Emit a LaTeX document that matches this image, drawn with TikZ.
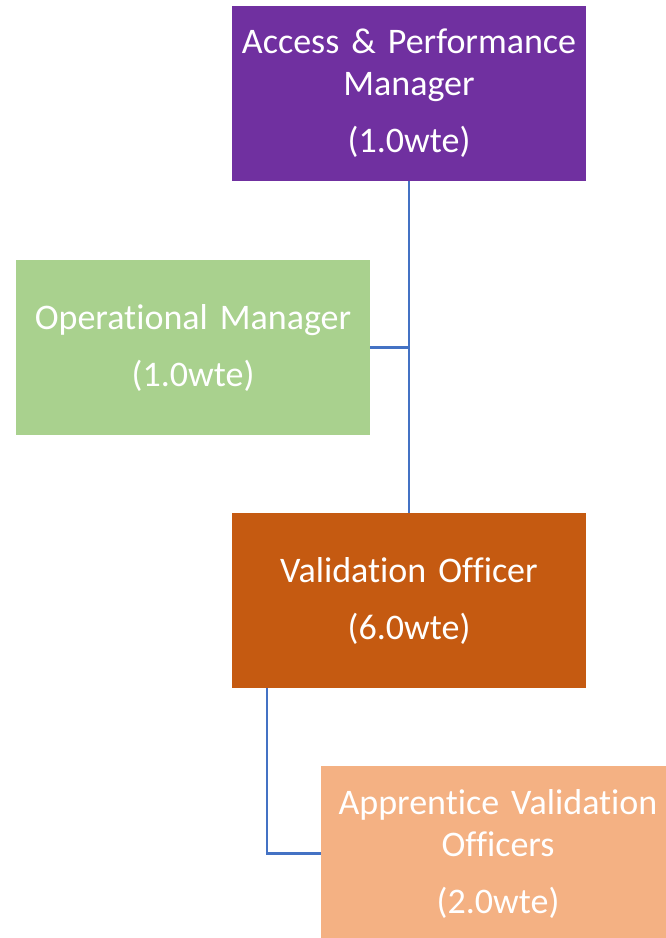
\documentclass[tikz,border=0pt]{standalone}
\usepackage{fontspec}
\setmainfont{Carlito}[Ligatures=NoCommon]
\usepackage{tikz}
\usetikzlibrary{positioning}

\definecolor{purplebox}{HTML}{7030A0}
\definecolor{greenbox}{HTML}{A9D18E}
\definecolor{orangebox}{HTML}{C55A11}
\definecolor{peachbox}{HTML}{F4B183}
\definecolor{linkblue}{HTML}{4472C4}

\tikzset{
  role/.style={rectangle, minimum width=354pt, minimum height=175pt, inner sep=0pt,
    text width=352pt, align=center, text=white,
    font=\fontsize{36pt}{42pt}\selectfont},
  link/.style={draw=linkblue, line width=2.6pt}
}

\begin{document}
\begin{tikzpicture}[x=1pt, y=-1pt]

            \useasboundingbox (0,0) rectangle (666,938);
            \clip (0,0) rectangle (666,938);

            \node[role, fill=purplebox] (APM) at (409, 93.5) {Access \& Performance\\Manager\\[15pt](1.0wte)};
            \node[role, fill=greenbox] (OM) at (193, 347.5) {Operational Manager\\[15pt](1.0wte)};
            \node[role, fill=orangebox] (VO) at (409, 600.5) {Validation Officer\\[15pt](6.0wte)};
            \node[role, fill=peachbox] (AVO) at (498, 853.5) {Apprentice Validation\\Officers\\[15pt](2.0wte)};

            \path[link]
                (APM.south) edge (VO.north)
                (OM.east) edge (OM.east -| APM.south);
            \draw[link] ([xshift=35pt]VO.south west) |- (AVO.west);
        \end{tikzpicture}
\end{document}
